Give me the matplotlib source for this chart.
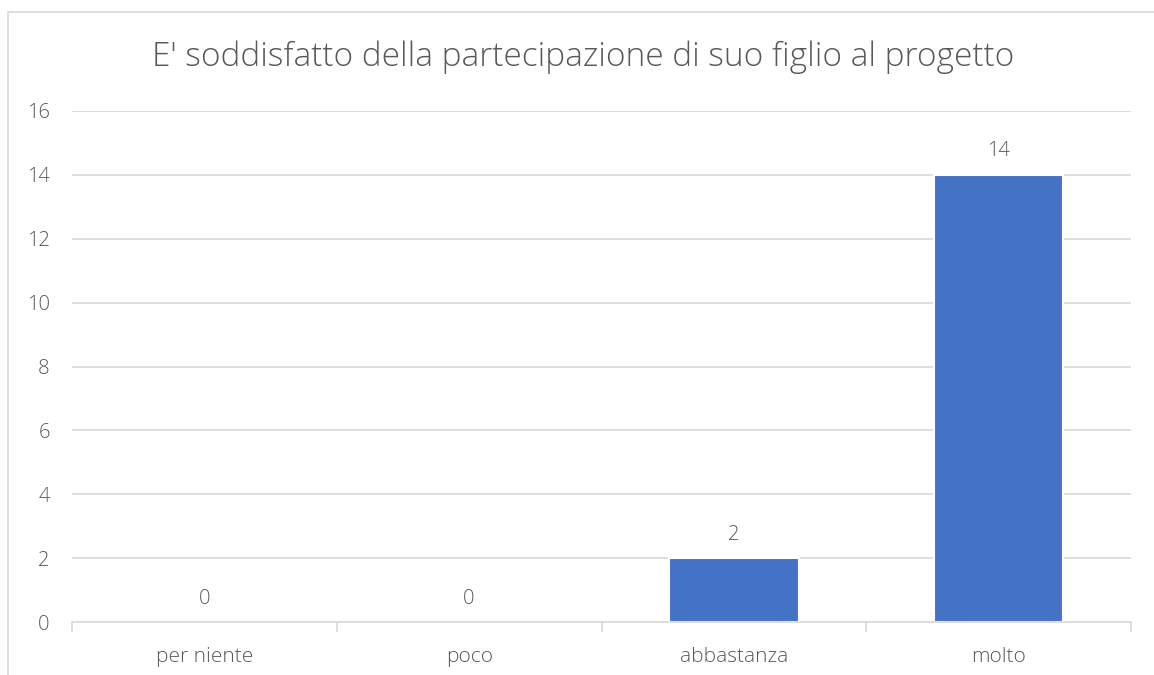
import matplotlib.pyplot as plt
from matplotlib.patches import Rectangle

# dati del grafico
categorie = ['per niente', 'poco', 'abbastanza', 'molto']
risposte = [0, 0, 2, 14]
titolo = "E' soddisfatto della partecipazione di suo figlio al progetto"
yticks = [0, 2, 4, 6, 8, 10, 12, 14, 16]

plt.rcParams['font.family'] = ['Open Sans', 'DejaVu Sans']
grigio = '#595959'

W, H = 1154, 675
fig = plt.figure(figsize=(W / 100, H / 100), dpi=100)

# bordo del grafico (tagliato a destra e in basso come nell'originale)
fig.patches.append(Rectangle((8 / W, -0.1), 1.2, 1 - 12 / H + 0.1,
                             transform=fig.transFigure, fill=False,
                             edgecolor='#d9d9d9', linewidth=1.2))

ax = fig.add_axes([72 / W, 1 - 622 / H, (1131 - 72) / W, (622 - 111) / H])

x = range(len(categorie))
barre = ax.bar(x, risposte, width=0.49, color='#4472C4',
               edgecolor='white', zorder=3)
for b, v in zip(barre, risposte):
    b.set_linewidth(1.5 if v > 0 else 0)

for i, v in enumerate(risposte):
    ax.text(i, v + 0.42, str(v), ha='center', va='bottom',
            fontsize=14.5, color=grigio, fontweight='light')

ax.set_xlim(-0.5, len(categorie) - 0.5)
ax.set_ylim(0, 16)
ax.set_yticks(yticks)
ax.set_yticklabels([str(t) for t in yticks], fontsize=14.5, color=grigio,
                   fontweight='light')
ax.set_xticks(list(x))
ax.set_xticklabels(categorie, fontsize=15, color=grigio, fontweight='light')
ax.tick_params(axis='y', length=0, pad=16)
ax.tick_params(axis='x', length=0, pad=18)

# tacche tra le categorie
ax.set_xticks([i - 0.5 for i in range(len(categorie) + 1)], minor=True)
ax.tick_params(axis='x', which='minor', length=7, color='#d9d9d9', width=1.2,
               direction='out')

ax.grid(axis='y', color='#d9d9d9', linewidth=1.2, zorder=0)
for s in ['top', 'right', 'left']:
    ax.spines[s].set_visible(False)
ax.spines['bottom'].set_color('#d9d9d9')
ax.spines['bottom'].set_linewidth(1.2)
ax.spines['bottom'].set_zorder(4)

fig.text(583 / W, 1 - 57 / H, titolo, ha='center', va='center',
         fontsize=24, color=grigio, fontweight='light')

plt.savefig('out.png', dpi=100)
